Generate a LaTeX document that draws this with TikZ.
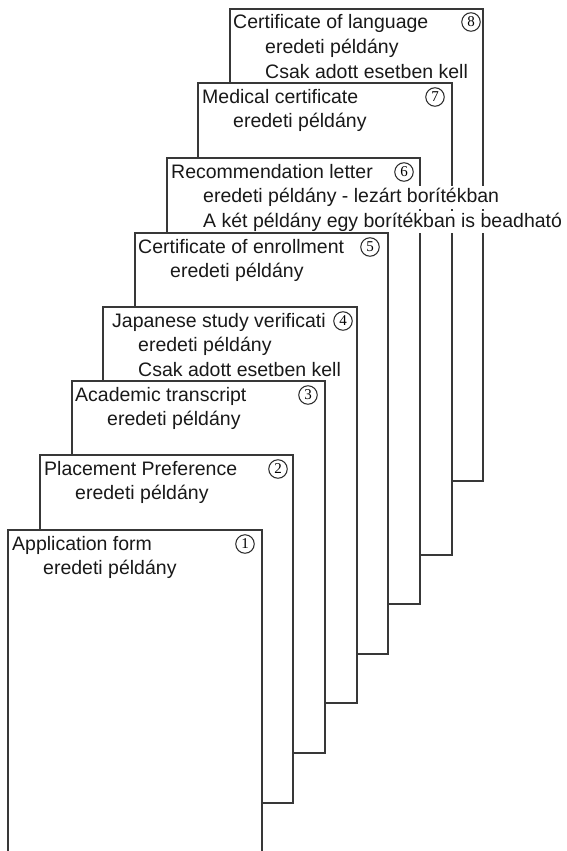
\documentclass[tikz,border=0pt]{standalone}
\usepackage{fontspec}
\setmainfont{Liberation Sans}
\newfontfamily\numfont{Liberation Serif}
\begin{document}
\begin{tikzpicture}[x=1pt,y=-1pt,
  page/.style={draw=black!78, line width=1.2pt, fill=white},
  txt/.style={anchor=base west, inner sep=0pt, text=black!90, font=\fontsize{19.5}{24}\selectfont},
  cov/.style={txt, fill=white, inner ysep=2pt},
  num/.style={circle, draw=black!85, line width=1pt, minimum size=18.5pt, inner sep=0pt, font=\numfont\fontsize{15}{15}\selectfont}]
\useasboundingbox (0,0) rectangle (567,851);
\clip (0,0) rectangle (567,851);
% page 8
\path[page] (230,9) rectangle (483,481);
\node[txt] (t8a) at (233,29) {Certificate of language};
\node[txt] (t8b) at (265,53.5) {eredeti példány};
\node[txt] (t8c) at (265,78) {Csak adott esetben kell};
\node[num] (n8) at (471,22) {8};
% page 7
\path[page] (198,83) rectangle (452,555);
\node[txt] (t7a) at (202,103) {Medical certificate};
\node[txt] (t7b) at (233,127.5) {eredeti példány};
\node[num] (n7) at (435,97) {7};
% page 6
\path[page] (167,158) rectangle (420,604);
\node[txt] (t6a) at (171,178) {Recommendation letter};
\node[cov] (t6b) at (203,202.5) {eredeti példány - lezárt borítékban};
\node[cov] (t6c) at (203,227) {A két példány egy borítékban is beadható};
\node[num] (n6) at (404,172) {6};
% page 5
\path[page] (135,233) rectangle (388,654);
\node[txt] (t5a) at (138,253) {Certificate of enrollment};
\node[txt] (t5b) at (170,277.5) {eredeti példány};
\node[num] (n5) at (370,247) {5};
% page 4
\path[page] (103,307) rectangle (357,703);
\node[txt] (t4a) at (112,327) {Japanese study verificati};
\node[txt] (t4b) at (138,351.5) {eredeti példány};
\node[txt] (t4c) at (138,376) {Csak adott esetben kell};
\node[num] (n4) at (343,321) {4};
% page 3
\path[page] (72,381) rectangle (325,753);
\node[txt] (t3a) at (75,401) {Academic transcript};
\node[txt] (t3b) at (107,425.5) {eredeti példány};
\node[num] (n3) at (308,395) {3};
% page 2
\path[page] (40,455) rectangle (293,803);
\node[txt] (t2a) at (44,475) {Placement Preference};
\node[txt] (t2b) at (75,499.5) {eredeti példány};
\node[num] (n2) at (278,469) {2};
% page 1
\path[page] (8,530) rectangle (262,875);
\node[txt] (t1a) at (12,550) {Application form};
\node[txt] (t1b) at (43,574.5) {eredeti példány};
\node[num] (n1) at (245,544) {1};
\end{tikzpicture}
\end{document}
